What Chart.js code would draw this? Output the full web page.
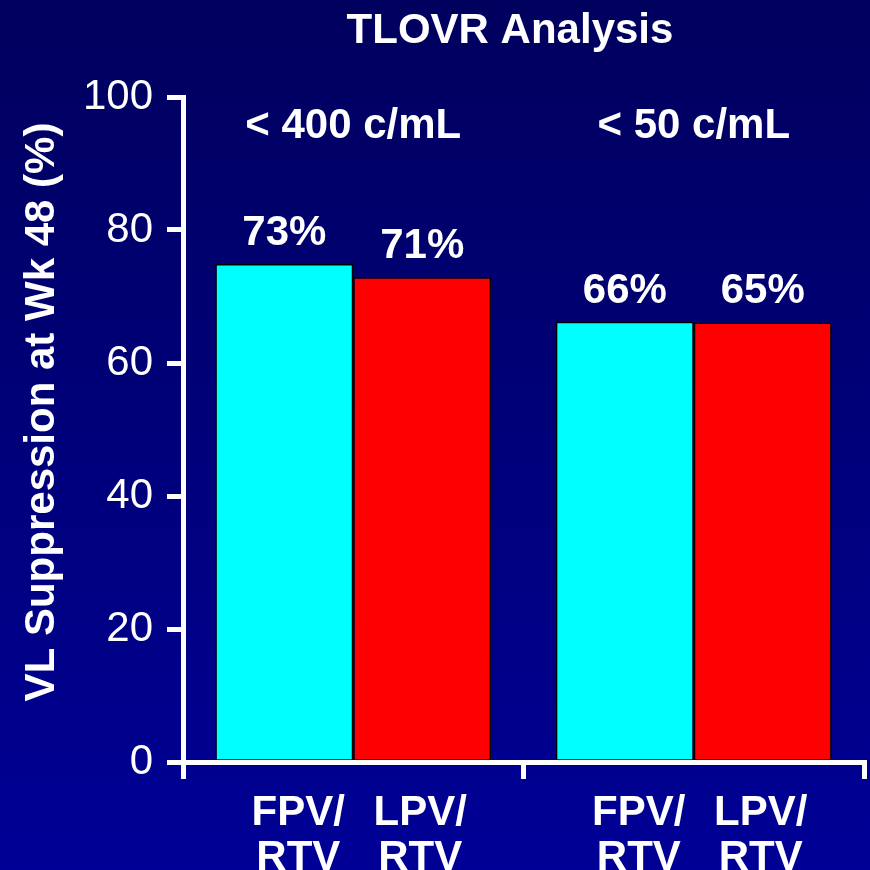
<!DOCTYPE html>
<html>
<head>
<meta charset="utf-8">
<script src="https://cdn.jsdelivr.net/npm/chart.js@4"></script>
<style>
  html, body { margin: 0; padding: 0; background: #000070; }
  #wrap { width: 870px; height: 870px; }
</style>
</head>
<body>
<div id="wrap"><canvas id="chart"></canvas></div>
<script>
// Chart data
const groups = ["< 400 c/mL", "< 50 c/mL"];
const fpvValues = [74.9, 66.2];
const lpvValues = [72.9, 66.1];
const fpvLabels = ["73%", "66%"];
const lpvLabels = ["71%", "65%"];
const armNames = [["FPV/", "RTV"], ["LPV/", "RTV"]];
const chartTitle = "TLOVR Analysis";
const yTitle = "VL Suppression at Wk 48 (%)";

const FONT = "'Liberation Sans', Arial, sans-serif";

// Background gradient + all the extra text
const decor = {
  id: "decor",
  beforeDraw(chart) {
    const ctx = chart.ctx;
    const g = ctx.createLinearGradient(0, 0, 0, chart.height);
    g.addColorStop(0, "#00005e");
    g.addColorStop(1, "#000096");
    ctx.save();
    ctx.fillStyle = g;
    ctx.fillRect(0, 0, chart.width, chart.height);
    ctx.restore();
  },
  afterDraw(chart) {
    const ctx = chart.ctx;
    const x = chart.scales.x;
    ctx.save();
    ctx.fillStyle = "#ffffff";
    ctx.font = "bold 42px " + FONT;
    ctx.textAlign = "center";
    ctx.textBaseline = "alphabetic";

    // title
    ctx.fillText(chartTitle, 510, 43);

    // group headings
    groups.forEach((g, i) => {
      ctx.fillText(g, x.getPixelForValue(i), 138);
    });

    // value labels and arm names under each bar
    const labelSets = [fpvLabels, lpvLabels];
    const nameShift = [14, -2];
    chart.data.datasets.forEach((ds, di) => {
      chart.getDatasetMeta(di).data.forEach((bar, i) => {
        ctx.fillText(labelSets[di][i], bar.x, bar.y - 19);
        const nx = bar.x + nameShift[di];
        ctx.fillText(armNames[di][0], nx, 825);
        ctx.fillText(armNames[di][1], nx, 870);
      });
    });

    // y axis title
    ctx.translate(42, 412);
    ctx.rotate(-Math.PI / 2);
    ctx.textBaseline = "middle";
    ctx.fillText(yTitle, 0, 0);
    ctx.restore();
  }
};

const canvas = document.getElementById("chart");

let chart = new Chart(canvas, {
  type: "bar",
  data: {
    labels: groups,
    datasets: [
      {
        label: "FPV/RTV",
        data: fpvValues,
        backgroundColor: "#00ffff",
        borderColor: "#000000",
        borderWidth: 1.5,
      },
      {
        label: "LPV/RTV",
        data: lpvValues,
        backgroundColor: "#ff0000",
        borderColor: "#000000",
        borderWidth: 1.5,
      },
    ],
  },
  options: {
    responsive: true,
    maintainAspectRatio: false,
    animation: false,
    devicePixelRatio: 1,
    categoryPercentage: 0.81,
    barPercentage: 1.0,
    layout: {
      padding: { top: 97, right: 6, left: 0, bottom: 0 },
    },
    plugins: {
      legend: { display: false },
      tooltip: { enabled: false },
    },
    scales: {
      x: {
        grid: {
          display: true,
          drawOnChartArea: false,
          drawTicks: true,
          tickLength: 17,
          color: "#ffffff",
          lineWidth: 5,
        },
        border: { display: true, color: "#ffffff", width: 5 },
        ticks: { display: false },
        afterFit: (scale) => {
          scale.height = 108;
        },
      },
      y: {
        min: 0,
        max: 100,
        ticks: {
          stepSize: 20,
          color: "#ffffff",
          padding: 14,
          font: { family: FONT, size: 42 },
        },
        grid: {
          drawOnChartArea: false,
          drawTicks: true,
          tickLength: 16,
          color: "#ffffff",
          lineWidth: 5,
        },
        border: { display: true, color: "#ffffff", width: 5 },
        afterFit: (scale) => {
          scale.width = 183;
        },
      },
    },
  },
  plugins: [decor],
});
</script>
</body>
</html>
